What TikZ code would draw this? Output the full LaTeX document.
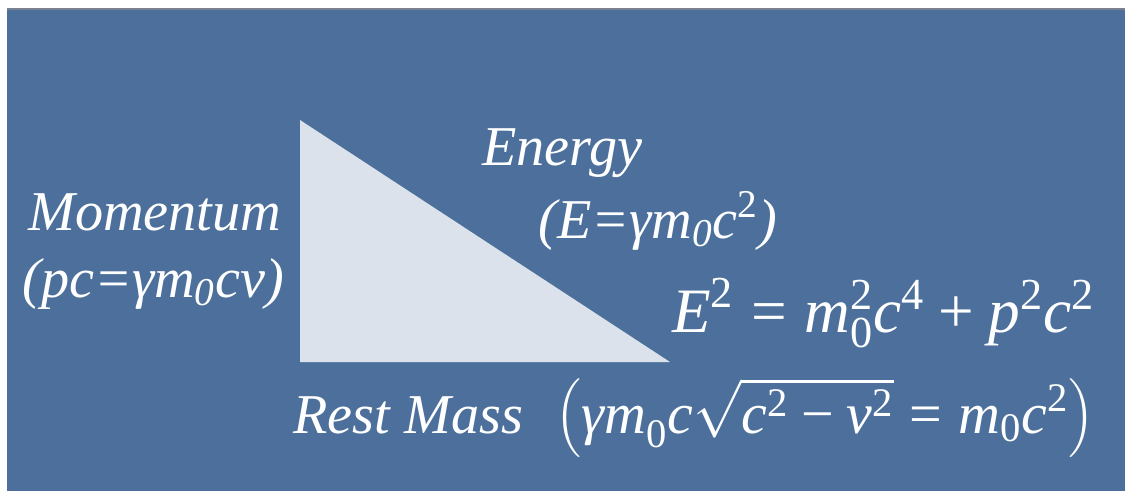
\RequirePackage{fix-cm}
\documentclass[tikz,border=0pt]{standalone}
\usepackage{amsmath}
\usepackage{fontspec}
\setmainfont{Liberation Serif}
\usepackage{tikz}
\usetikzlibrary{positioning}

\definecolor{slideblue}{RGB}{76,112,155}
\definecolor{paleblue}{RGB}{219,226,236}
\definecolor{edgegrey}{RGB}{120,130,145}

% italic letter and upright figure inside math
\newcommand{\vi}[1]{\text{\itshape #1}}
\newcommand{\dg}[1]{\text{#1}}
\newcommand{\eq}{\mathrel{\text{=}}}
\newcommand{\pl}{\mathbin{\text{+}}}
\newcommand{\mi}{\mathbin{\text{−}}}

\begin{document}
\begin{tikzpicture}[
  x=0.02cm, y=-0.02cm,
  lbl/.style={text=white, inner sep=0pt, anchor=base west,
              font=\fontsize{32}{38}\selectfont\itshape},
  eqn/.style={text=white, inner sep=0pt, anchor=base west,
              font=\fontsize{36}{42}\selectfont}
]
\useasboundingbox (0,0) rectangle (1125,491);
\fill[slideblue] (7,9) rectangle (1125,491);
\draw[edgegrey, line width=0.6pt] (7,9) -- (1125,9);

% the triangle
\coordinate (top) at (300,120);
\coordinate (corner) at (300,362);
\coordinate (tip) at (670,362);
\fill[paleblue] (top) -- (corner) -- (tip) -- cycle;

\node[lbl] (mom) at (28,230) {Momentum};
\node[lbl] (momdef) at (22,297) {(pc=γm\textsubscript{0}cv)};
\node[lbl] (en) at (482,165) {Energy};
\node[lbl] (endef) at (538,238) {(E=γm\textsubscript{0}c\textsuperscript{\upshape 2})};
\node[lbl] (rest) at (293,433) {Rest Mass};
\node[eqn] (einst) at (672,332)
  {$\vi{E}^{\dg{2}}\eq\vi{m}_{\dg{0}}^{\dg{2}}\vi{c}^{\dg{4}}\pl\vi{p}^{\dg{2}}\vi{c}^{\dg{2}}$};
\node[eqn, font=\fontsize{33}{40}\selectfont] (restdef) at (555,433)
  {$\left(\vi{γm}_{\dg{0}}\vi{c}\sqrt{\vi{c}^{\dg{2}}\mi\vi{v}^{\dg{2}}}\eq\vi{m}_{\dg{0}}\vi{c}^{\dg{2}}\right)$};
\end{tikzpicture}
\end{document}
